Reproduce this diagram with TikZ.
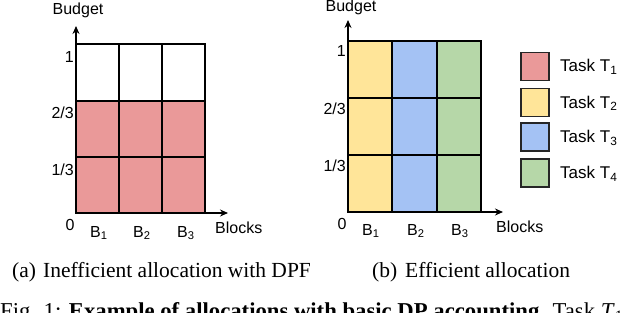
\documentclass[tikz,border=0pt]{standalone}
\usepackage{fontspec}
\setmainfont{Liberation Serif}
\newfontfamily\arialfont{Liberation Sans}
\usetikzlibrary{arrows.meta, positioning}
\definecolor{tred}{RGB}{234,153,153}
\definecolor{tyellow}{RGB}{255,229,153}
\definecolor{tblue}{RGB}{164,194,244}
\definecolor{tgreen}{RGB}{182,215,168}
\tikzset{
  axis/.style={line width=1.2pt, -{Stealth[length=8pt,width=7pt]}},
  cell/.style={draw=black, line width=1.7pt},
  lbl/.style={font=\arialfont\fontsize{16}{18}\selectfont, inner sep=0pt},
  leg/.style={font=\arialfont\fontsize{17}{19}\selectfont, inner sep=0pt},
  legbox/.style={draw=black!85, line width=1.5pt, minimum size=28pt, inner sep=0pt},
  captext/.style={font=\fontsize{21.5}{24}\selectfont, inner sep=0pt, anchor=base west},
  figtext/.style={font=\fontsize{22.7}{25}\selectfont, inner sep=0pt, anchor=base west},
}

\begin{document}
\begin{tikzpicture}[x=1pt, y=-1pt]
  \useasboundingbox (0,0) rectangle (640,313);
  \clip (0,0) rectangle (640,313);

  % (a) cells: top row free, T1 takes 2/3 of every block
  \foreach \xa/\xb in {76/119, 119/162, 162/205}{
    \draw[cell, fill=white] (\xa,44) rectangle (\xb,101);
    \draw[cell, fill=tred] (\xa,101) rectangle (\xb,157);
    \draw[cell, fill=tred] (\xa,157) rectangle (\xb,213);
  }
  % (b) cells: one task per block
  \foreach \xa/\xb/\c in {348/392/tyellow, 392/437/tblue, 437/481/tgreen}{
    \foreach \ya/\yb in {41/98, 98/155, 155/212}
      \draw[cell, fill=\c] (\xa,\ya) rectangle (\xb,\yb);
  }

  % Axes
  \coordinate (oa) at (76,213);
  \coordinate (ob) at (348,212);
  \draw[axis] (oa) -- (76,26);
  \draw[axis] (oa) -- (228,213);
  \draw[axis] (ob) -- (348,20);
  \draw[axis] (ob) -- (503,212);

  % Axis labels
  \node[lbl, anchor=base] (budgeta) at (78,15) {Budget};
  \node[lbl, anchor=base] (budgetb) at (351,12) {Budget};
  \node[lbl, anchor=base west] (blocksa) at (215,233) {Blocks};
  \node[lbl, anchor=base west] (blocksb) at (496,232) {Blocks};
  \node[lbl, anchor=base] (zeroa) at (70,230) {0};
  \node[lbl, anchor=base] (zerob) at (342,229) {0};

  % Ticks
  \foreach \y/\t/\n in {63/1/one, 118/2\slash 3/two, 175/1\slash 3/third}
    \node[lbl, anchor=base east] (\n a) at (74,\y) {\t};
  \foreach \y/\t/\n in {57/1/one, 114/2\slash 3/two, 171/1\slash 3/third}
    \node[lbl, anchor=base east] (\n b) at (346,\y) {\t};

  % Blocks
  \foreach \i/\xa/\xb in {1/90/362, 2/133/407, 3/177/451}{
    \node[lbl, anchor=base west] (ba\i) at (\xa,237) {B\textsubscript{\i}};
    \node[lbl, anchor=base west] (bb\i) at (\xb,235) {B\textsubscript{\i}};
  }

  % Legend
  \foreach \i/\c/\yc in {1/tred/66.5, 2/tyellow/102.5, 3/tblue/137, 4/tgreen/173}{
    \node[legbox, fill=\c] (key\i) at (535,\yc) {};
    \node[leg, anchor=base west] (task\i) at (560,\yc+5.5) {Task T\textsubscript{\i}};
  }

  % Captions
  \node[captext] (capa) at (12,277) {(a)};
  \node[captext] (capatext) at (43,277) {Inefficient allocation with DPF};
  \node[captext] (capb) at (372,277) {(b)};
  \node[captext] (capbtext) at (405,277) {Efficient allocation};
  \node[figtext] (fig) at (0,318) {Fig. 1: \textbf{Example of allocations with basic DP accounting.} Task \textit{T}\textsubscript{1}};
\end{tikzpicture}
\end{document}
